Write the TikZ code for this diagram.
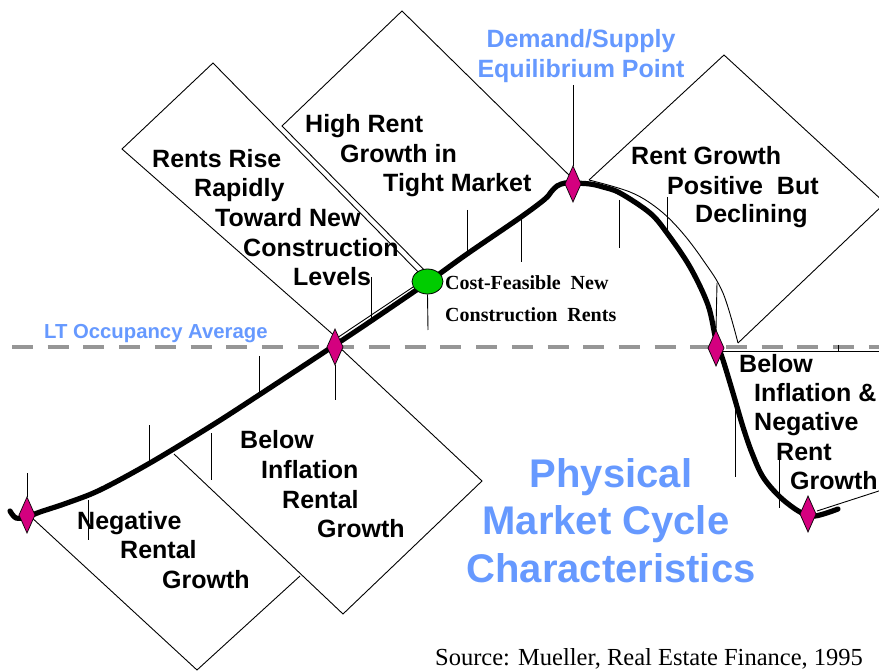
\documentclass[tikz,border=0pt]{standalone}
\usepackage{fontspec}
\setmainfont{Liberation Sans}
\newfontfamily\serifface{Liberation Serif}
\usetikzlibrary{shapes.geometric}
\definecolor{mag}{RGB}{212,0,127}
\definecolor{lblue}{RGB}{102,153,255}
\definecolor{dgray}{RGB}{150,150,150}
\definecolor{cgreen}{RGB}{0,204,0}
\tikzset{
  rect/.style={draw, line width=0.9pt, line join=miter},
  tickline/.style={draw, line width=0.9pt},
  thinedge/.style={draw, line width=0.9pt},
  curve/.style={draw, line width=5.2pt, line cap=round, line join=round},
  gem/.style={diamond, draw, fill=mag, line width=0.7pt, minimum width=16pt, minimum height=36pt, inner sep=0pt, outer sep=0pt},
  lbl/.style={anchor=base west, inner sep=0pt, font=\fontsize{25}{29.5}\selectfont\bfseries},
  bluelbl/.style={anchor=base, inner sep=0pt, text=lblue, font=\fontsize{25}{29.5}\selectfont\bfseries},
  bigblue/.style={anchor=base, inner sep=0pt, text=lblue, font=\fontsize{40}{47.5}\selectfont\bfseries},
  seriflbl/.style={anchor=base west, inner sep=0pt, font=\serifface\fontsize{20}{24}\selectfont\bfseries},
  srclbl/.style={anchor=base west, inner sep=0pt, font=\serifface\fontsize{24.5}{28}\selectfont},
}
\begin{document}
\begin{tikzpicture}[x=1pt,y=-1pt]
\useasboundingbox (0,0) rectangle (879,671);
\clip (0,0) rectangle (879,671);

% rotated boxes
\draw[rect] (425,279) -- (213,63) -- (122,149) -- (337,338) -- cycle;          % A
\draw[rect] (436,282) -- (282,126) -- (402,11) -- (574,180);                      % B
\draw[rect] (589,180) -- (724,55) -- (885,203) -- (738,343);                      % C
\draw[thinedge] plot[smooth, tension=0.6] coordinates {(589,180) (630,192) (657,208) (680,230) (703,260) (723,293) (738,343)};
\draw[rect] (723,351) -- (885,351);                                               % D top
\draw[rect] (817,511) -- (885,489);                                               % D bottom
\draw[thinedge] plot[smooth, tension=0.6] coordinates {(745,438) (758,470) (775,493) (800,511)};
\draw[rect] (337,345) -- (482,481) -- (343,614) -- (174,454);                      % E
\draw[rect] (30,516) -- (197,670) -- (300,576);                                    % F

% occupancy average
\draw[dgray, line width=4pt, dash pattern=on 21pt off 14.7pt] (12,347) -- (879,347);

% market curve
\draw[curve] plot[smooth, tension=0.55] coordinates {
  (10,511) (16,518) (27,517) (40,512) (67,503) (100,490) (150,463) (211,426)
  (259,395) (335,345) (371,321) (428,282) (467,254) (521,217) (545,199)
  (551,192) (557,186) (565,183) (573,183) (590,184) (603,187) (620,193)
  (650,213) (667,233) (690,267) (708,305) (716,340) (723,360) (733,393)
  (743,427) (752,453) (763,477) (780,497) (800,512) (815,516) (838,509)};

% markers
\node[gem] (dL) at (27,515) {};
\node[gem] (dM) at (335,347) {};
\node[gem] (dT) at (573,184) {};
\node[gem] (dR) at (716,348) {};
\node[gem] (dB) at (808,514) {};
\node[ellipse, draw, fill=cgreen, line width=0.8pt, minimum width=31pt, minimum height=25pt, inner sep=0pt] (cf) at (427.5,281.5) {};

% ticks
\coordinate (tL) at (27,473);
\coordinate (tT) at (573,85);
\coordinate (tR) at (717,283);
\draw[tickline] (tL) -- (dL.north);
\draw[tickline] (tT) -- (dT.north);
\draw[tickline] (tR) -- (dR.north);
\draw[tickline] (dM.south) -- (335,400);
\draw[tickline] (cf.south) -- (428,330);
\draw[tickline] (88,500) -- (88,540);
\draw[tickline] (149,425) -- (149,463);
\draw[tickline] (211,433) -- (211,480);
\draw[tickline] (259,356) -- (259,397);
\draw[tickline] (371,277) -- (371,323);
\draw[tickline] (467,210) -- (467,255);
\draw[tickline] (521,215) -- (521,262);
\draw[tickline] (619,200) -- (619,248);
\draw[tickline] (667,197) -- (667,238);
\draw[tickline] (735,403) -- (735,477);
\draw[tickline] (779,458) -- (779,508);
\draw[tickline] (838,345) -- (838,351);

% labels
\node[lbl] (a1) at (152,168) {Rents Rise};
\node[lbl] (a2) at (194,197) {Rapidly};
\node[lbl] (a3) at (215,227) {Toward New};
\node[lbl] (a4) at (243,257) {Construction};
\node[lbl] (a5) at (293,286) {Levels};

\node[lbl] (b1) at (305,133) {High Rent};
\node[lbl] (b2) at (340,163) {Growth in};
\node[lbl] (b3) at (383,192) {Tight Market};

\node[lbl] (c1) at (631,165) {Rent Growth};
\node[lbl] (c2) at (667,195) {Positive\ \ But};
\node[lbl] (c3) at (695,223) {Declining};

\node[lbl] (d1) at (739,372) {Below};
\node[lbl] (d2) at (754,401) {Inflation \&};
\node[lbl] (d3) at (754,430) {Negative};
\node[lbl] (d4) at (776,460) {Rent};
\node[lbl] (d5) at (790,489) {Growth};

\node[lbl] (e1) at (240,448) {Below};
\node[lbl] (e2) at (261,478) {Inflation};
\node[lbl] (e3) at (282,508) {Rental};
\node[lbl] (e4) at (317,537) {Growth};

\node[lbl] (f1) at (77,529) {Negative};
\node[lbl] (f2) at (120,558) {Rental};
\node[lbl] (f3) at (162,588) {Growth};

\node[bluelbl] (eq1) at (581,48) {Demand/Supply};
\node[bluelbl] (eq2) at (581,78) {Equilibrium Point};

\node[anchor=base west, inner sep=0pt, text=lblue, font=\fontsize{20.3}{24}\selectfont\bfseries] (lt) at (44,338) {LT Occupancy Average};

\node[seriflbl] (cf1) at (445,290) {Cost-Feasible\ \ New};
\node[seriflbl] (cf2) at (445,322) {Construction\ \ Rents};

\node[bigblue] (p1) at (611,487) {Physical};
\node[bigblue] (p2) at (606,534) {Market Cycle};
\node[bigblue] (p3) at (611,582) {Characteristics};

\node[srclbl] (src) at (435,665) {Source: Mueller, Real Estate Finance, 1995};
\end{tikzpicture}
\end{document}
